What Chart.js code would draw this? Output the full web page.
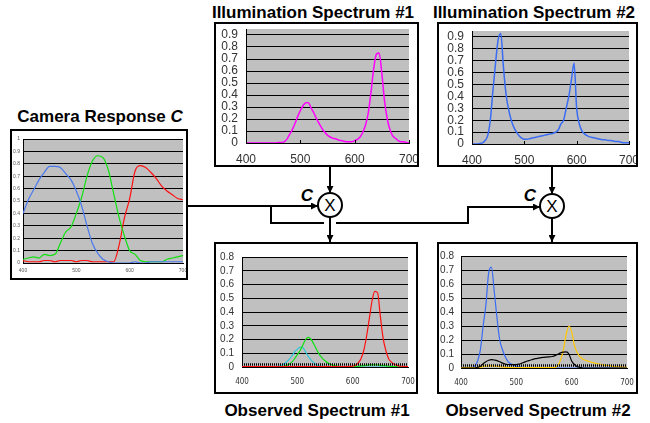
<!DOCTYPE html>
<html>
<head>
<meta charset="utf-8">
<script src="https://cdn.jsdelivr.net/npm/chart.js@4"></script>
<style>
body { margin: 0; background: #fff; }
#page { position: relative; width: 650px; height: 423px; overflow: hidden; font-family: 'Liberation Sans', Arial, sans-serif; }
#page svg { position: absolute; left: 0; top: 0; }
.box { position: absolute; border: 2px solid #000; background: #fff; box-sizing: border-box; }
.box canvas { position: absolute; left: 0; top: 0; }
</style>
</head>
<body>
<div id="page">
  <svg width="650" height="423" font-family="'Liberation Sans', Arial, sans-serif">
    <defs>
      <marker id="ah" markerWidth="7" markerHeight="7" refX="7" refY="3.5" orient="auto" markerUnits="userSpaceOnUse">
        <path d="M0,0 L7,3.5 L0,7 z" fill="#000"/>
      </marker>
    </defs>
    <g stroke="#000" stroke-width="2" fill="none">
      <path d="M188,206 H318" marker-end="url(#ah)"/>
      <path d="M271,206 V223 H324"/>
      <path d="M336,223 H468 V207 H540" marker-end="url(#ah)"/>
      <path d="M330,167 V193" marker-end="url(#ah)"/>
      <path d="M330,217 V242" marker-end="url(#ah)"/>
      <path d="M552,167 V194" marker-end="url(#ah)"/>
      <path d="M552,218 V242" marker-end="url(#ah)"/>
      <circle cx="330" cy="205" r="12"/>
      <circle cx="552" cy="206" r="12"/>
    </g>
    <text x="330" y="211" text-anchor="middle" font-size="17">X</text>
    <text x="552" y="212" text-anchor="middle" font-size="17">X</text>
    <text x="307" y="201" text-anchor="middle" font-size="17" font-weight="bold" font-style="italic">C</text>
    <text x="530" y="201" text-anchor="middle" font-size="17" font-weight="bold" font-style="italic">C</text>
    <g font-size="17" font-weight="bold" text-anchor="middle" fill="#000">
      <text x="100" y="122">Camera Response <tspan font-style="italic">C</tspan></text>
      <text x="313" y="18">Illumination Spectrum #1</text>
      <text x="534" y="18">Illumination Spectrum #2</text>
      <text x="317" y="416">Observed Spectrum #1</text>
      <text x="538" y="416">Observed Spectrum #2</text>
    </g>
  </svg>
  <div class="box" style="left:10px;top:129px;width:178px;height:151px"><canvas id="cam" width="174" height="147"></canvas></div>
  <div class="box" style="left:214px;top:22px;width:205px;height:145px"><canvas id="ill1" width="201" height="141"></canvas></div>
  <div class="box" style="left:437px;top:22px;width:201px;height:145px"><canvas id="ill2" width="197" height="141"></canvas></div>
  <div class="box" style="left:214px;top:242px;width:204px;height:152px"><canvas id="obs1" width="200" height="148"></canvas></div>
  <div class="box" style="left:437px;top:242px;width:201px;height:152px"><canvas id="obs2" width="197" height="148"></canvas></div>
</div>
<script>
// wavelengths (nm)
const wl10 = [400,410,420,430,440,450,460,470,480,490,500,510,520,530,540,550,560,570,580,590,600,610,620,630,640,650,660,670,680,690,700];
const wl5 = [400,405,410,415,420,425,430,435,440,445,450,455,460,465,470,475,480,485,490,495,
             500,505,510,515,520,525,530,535,540,545,550,555,560,565,570,575,580,585,590,595,
             600,605,610,615,620,625,630,635,640,645,650,655,660,665,670,675,680,685,690,695,700];
const xTicks = [400, 500, 600, 700];
const camYTicks = [0,0.1,0.2,0.3,0.4,0.5,0.6,0.7,0.8,0.9,1];
const illYTicks = [0,0.1,0.2,0.3,0.4,0.5,0.6,0.7,0.8,0.9];
const obsYTicks = [0,0.1,0.2,0.3,0.4,0.5,0.6,0.7,0.8];

// camera response C
const camBlue  = [0.40,0.51,0.59,0.67,0.73,0.78,0.78,0.77,0.72,0.67,0.58,0.46,0.30,0.16,0.08,0.03,0.01,0,0,0,0,0.01,0,0,0.01,0.01,0.01,0.01,0.01,0.01,0.01];
const camGreen = [0.03,0.04,0.05,0.04,0.07,0.06,0.07,0.16,0.25,0.29,0.40,0.53,0.70,0.82,0.865,0.85,0.75,0.56,0.37,0.22,0.10,0.07,0.02,0.01,0.01,0.01,0.01,0.03,0.04,0.05,0.06];
const camRed   = [0.02,0.01,0.01,0.01,0.02,0.02,0.01,0.02,0.02,0.02,0.01,0.02,0.02,0.01,0.01,0.01,0.01,0.01,0.14,0.36,0.52,0.74,0.785,0.77,0.73,0.68,0.62,0.58,0.55,0.52,0.51];

// illuminants
const illum1 = [0,0,0,0,0,0,0,0,0,0,0,0,0.005,0.005,0.01,0.03,0.07,0.11,0.16,0.22,
                0.27,0.31,0.335,0.335,0.29,0.25,0.20,0.16,0.12,0.09,0.065,0.05,0.04,0.035,0.025,0.02,0.015,0.01,0.01,0.01,
                0.02,0.03,0.05,0.09,0.15,0.25,0.42,0.62,0.74,0.75,0.58,0.35,0.20,0.11,0.06,0.04,0.02,0.01,0.01,0.005,0];
const illum2 = [0,0,0,0.005,0.01,0.03,0.07,0.20,0.45,0.68,0.88,0.93,0.65,0.42,0.29,0.20,0.14,0.10,0.07,0.05,
                0.04,0.04,0.045,0.05,0.055,0.06,0.065,0.07,0.075,0.08,0.085,0.09,0.10,0.12,0.17,0.20,0.30,0.40,0.54,0.68,
                0.30,0.17,0.11,0.085,0.07,0.06,0.055,0.05,0.045,0.04,0.035,0.035,0.03,0.03,0.025,0.02,0.02,0.015,0.01,0.01,0.01];

// observed #1
const obs1Cyan  = [0,0,0,0,0,0,0,0,0,0,0,0,0,0.005,0.01,0.02,0.035,0.055,0.08,0.11,
                   0.13,0.145,0.14,0.11,0.075,0.05,0.03,0.015,0.008,0.004,0.002,0,0,0,0,0,0,0,0,0,
                   0,0,0,0,0,0,0,0,0,0,0,0,0,0,0,0,0,0,0,0,0];
const obs1Green = [0,0,0,0,0,0,0,0,0,0,0,0,0,0,0,0.005,0.01,0.02,0.035,0.06,
                   0.09,0.12,0.16,0.20,0.215,0.20,0.165,0.125,0.09,0.065,0.045,0.03,0.02,0.012,0.008,0.005,0.003,0.002,0.002,0.002,
                   0.002,0.003,0.005,0.008,0.01,0.012,0.015,0.015,0.015,0.015,0.012,0.01,0.008,0.006,0.004,0.003,0.002,0.001,0.001,0.001,0.001];
const obs1Red   = [0.003,0.003,0.003,0.003,0.003,0.003,0.003,0.003,0.003,0.003,0.003,0.003,0.003,0.003,0.003,0.003,0.003,0.003,0.003,0.003,
                   0.003,0.003,0.003,0.003,0.003,0.003,0.003,0.003,0.003,0.003,0.003,0.003,0.003,0.003,0.003,0.003,0.003,0.003,0.003,0.004,
                   0.007,0.012,0.03,0.06,0.12,0.22,0.35,0.48,0.55,0.54,0.37,0.21,0.12,0.06,0.035,0.02,0.012,0.007,0.005,0.003,0.002];

// observed #2
const obs2Blue   = [0,0,0,0,0.003,0.015,0.05,0.13,0.30,0.45,0.68,0.72,0.55,0.36,0.20,0.13,0.08,0.045,0.03,0.02,
                    0.012,0.008,0.005,0.003,0.002,0,0,0,0,0,0,0,0,0,0,0,0,0,0,0,
                    0,0,0,0,0,0,0,0,0,0,0,0,0,0,0,0,0,0,0,0,0];
const obs2Yellow = [0.002,0.002,0.002,0.002,0.002,0.002,0.002,0.005,0.01,0.013,0.015,0.015,0.014,0.012,0.01,0.007,0.005,0.003,0.002,0.002,
                    0.002,0.002,0.002,0.002,0.002,0.002,0.002,0.002,0.002,0.002,0.002,0.002,0.002,0.002,0.004,0.02,0.06,0.13,0.24,0.30,
                    0.26,0.16,0.11,0.08,0.065,0.055,0.048,0.042,0.037,0.032,0.028,0.025,0.02,0.018,0.015,0.012,0.01,0.009,0.008,0.007,0.006];
const obs2Black  = [0,0,0,0,0,0,0.005,0.012,0.03,0.045,0.055,0.06,0.057,0.053,0.045,0.035,0.028,0.025,0.024,0.024,
                    0.024,0.028,0.035,0.042,0.05,0.055,0.062,0.067,0.07,0.074,0.076,0.078,0.08,0.082,0.088,0.098,0.108,0.113,0.115,0.10,
                    0.05,0.025,0.01,0.005,0,0,0,0,0,0,0,0,0,0,0,0,0,0,0,0,0];

// dotted line just above zero in the observed plots
const baseX = [400, 700];
const baseY = [0.018, 0.018];

const FONT = "'Liberation Sans', Arial, sans-serif";
const NARROW = "'Liberation Sans Narrow', 'DejaVu Sans Condensed', Arial";

const grayBg = {
    id: 'grayBg',
    beforeDraw(chart) {
        const { ctx, chartArea: a } = chart;
        ctx.save();
        ctx.fillStyle = '#c0c0c0';
        ctx.fillRect(a.left, a.top, a.right - a.left, a.bottom - a.top);
        ctx.restore();
    }
};

// short tick marks pointing up into the plot
const innerTicks = {
    id: 'innerTicks',
    afterDraw(chart, args, opts) {
        if (!opts.len) return;
        const { ctx, chartArea: a, scales } = chart;
        ctx.save();
        ctx.strokeStyle = '#000';
        ctx.lineWidth = 1;
        xTicks.forEach(v => {
            const px = Math.round(scales.x.getPixelForValue(v)) + 0.5;
            ctx.beginPath();
            ctx.moveTo(px, a.bottom);
            ctx.lineTo(px, a.bottom - opts.len);
            ctx.stroke();
        });
        ctx.restore();
    }
};

function line(xs, ys, color, width, dash) {
    return {
        data: xs.map((x, i) => ({ x: x, y: ys[i] })),
        borderColor: color,
        borderWidth: width,
        borderDash: dash || [],
        pointRadius: 0,
        fill: false,
        cubicInterpolationMode: 'monotone'
    };
}

function makeChart(id, datasets, s) {
    return new Chart(document.getElementById(id), {
        type: 'line',
        data: { datasets: datasets },
        plugins: [grayBg, innerTicks],
        options: {
            responsive: false,
            animation: false,
            events: [],
            layout: { padding: { left: 0, top: s.top, right: s.right, bottom: 0 } },
            plugins: {
                legend: { display: false },
                tooltip: { enabled: false },
                innerTicks: { len: s.tickLen || 0 }
            },
            scales: {
                x: {
                    type: 'linear', min: 400, max: 700,
                    afterBuildTicks: sc => { sc.ticks = xTicks.map(v => ({ value: v })); },
                    afterFit: sc => { sc.height = s.xh; sc.paddingLeft = 0; sc.paddingRight = 0; },
                    grid: { display: false, drawTicks: false },
                    border: { display: true, color: '#000', width: 1 },
                    ticks: { font: s.xFont, color: s.tickColor, padding: s.xPad, maxRotation: 0, autoSkip: false }
                },
                y: {
                    type: 'linear', min: 0, max: s.yMax,
                    afterBuildTicks: sc => { sc.ticks = s.yTicks.map(v => ({ value: v })); },
                    afterFit: sc => { sc.width = s.yw; sc.paddingTop = 0; sc.paddingBottom = 0; },
                    grid: { color: '#000', lineWidth: 1, drawTicks: false },
                    border: { display: true, color: '#000', width: 1 },
                    ticks: { font: s.yFont, color: s.tickColor, padding: s.yPad, autoSkip: false, callback: v => String(v) }
                }
            }
        }
    });
}

makeChart('cam', [
    line(wl10, camBlue, '#4a78ee', 1.2),
    line(wl10, camGreen, '#10e010', 1.2),
    line(wl10, camRed, '#ff1010', 1.2)
], { top: 8, right: 3, yw: 11, xh: 15, yMax: 1, yTicks: camYTicks,
     xFont: { family: FONT, size: 5 }, yFont: { family: FONT, size: 5 }, tickColor: '#555', xPad: 5, yPad: 3 });

makeChart('ill1', [
    line(wl5, illum1, '#ff00ff', 1.5)
], { top: 5, right: 8, yw: 30, xh: 22, yMax: 0.95, yTicks: illYTicks, tickLen: 3,
     xFont: { family: FONT, size: 12 }, yFont: { family: FONT, size: 12 }, tickColor: '#333', xPad: 9, yPad: 8 });

makeChart('ill2', [
    line(wl5, illum2, '#3a6cf4', 1.5)
], { top: 7, right: 7, yw: 33, xh: 21, yMax: 0.95, yTicks: illYTicks, tickLen: 3,
     xFont: { family: FONT, size: 12 }, yFont: { family: FONT, size: 12 }, tickColor: '#333', xPad: 9, yPad: 8 });

makeChart('obs1', [
    line(baseX, baseY, '#000', 2.5, [1, 1]),
    line(wl5, obs1Red, '#ff1010', 1.2),
    line(wl5, obs1Green, '#10e010', 1.2),
    line(wl5, obs1Cyan, '#30c8d8', 1.2)
], { top: 13, right: 8, yw: 26, xh: 25, yMax: 0.8, yTicks: obsYTicks,
     xFont: { family: NARROW, size: 8 }, yFont: { family: FONT, size: 10 }, tickColor: '#333', xPad: 10, yPad: 8 });

makeChart('obs2', [
    line(baseX, baseY, '#000', 2.5, [1, 1]),
    line(wl5, obs2Black, '#000', 1.2),
    line(wl5, obs2Yellow, '#ffc800', 1.2),
    line(wl5, obs2Blue, '#3a6cf4', 1.2)
], { top: 12, right: 9, yw: 22, xh: 24, yMax: 0.8, yTicks: obsYTicks,
     xFont: { family: NARROW, size: 8 }, yFont: { family: FONT, size: 10 }, tickColor: '#333', xPad: 10, yPad: 7 });
</script>
</body>
</html>
